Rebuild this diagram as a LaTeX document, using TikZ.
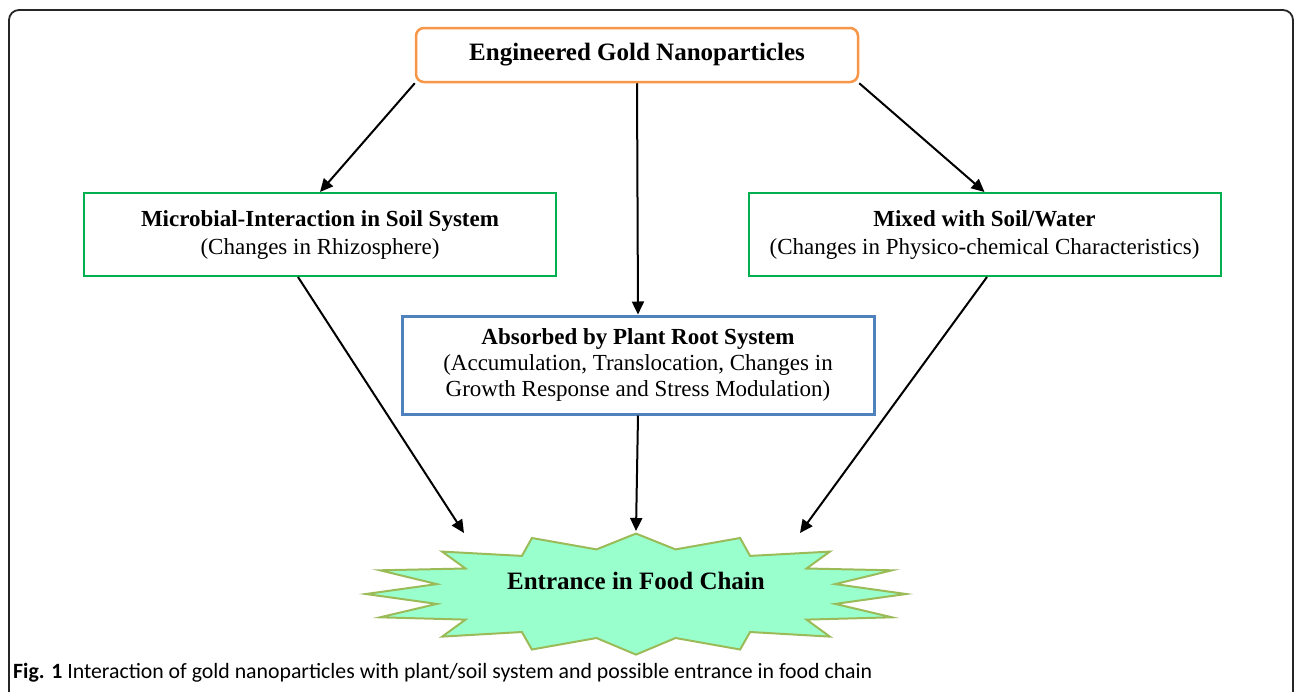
\documentclass[tikz,border=0pt]{standalone}
\usepackage{fontspec}
\setmainfont{Liberation Serif}
\newfontfamily\capfont{Carlito}
\usetikzlibrary{arrows.meta,calc}
\definecolor{orangeb}{HTML}{F79646}
\definecolor{boxgreen}{HTML}{00B050}
\definecolor{boxblue}{HTML}{4F81BD}
\definecolor{starfill}{HTML}{99FFCC}
\definecolor{starline}{HTML}{9BBB59}
\begin{document}
\begin{tikzpicture}[x=1pt,y=-1pt,
  arr/.style={line width=2pt,-{Triangle[length=13pt,width=12pt]}},
  gbox/.style={draw=boxgreen,line width=2pt,minimum width=472pt,minimum height=83pt,
    align=center,inner sep=0pt,font=\fontsize{23}{28}\selectfont},
  bbox/.style={draw=boxblue,line width=3pt,minimum width=472pt,minimum height=98pt,
    align=center,inner sep=0pt,font=\fontsize{23}{26}\selectfont},
  topbox/.style={draw=orangeb,line width=2.5pt,rounded corners=8pt,minimum width=442pt,
    minimum height=54pt,fill=white,inner sep=0pt,font=\bfseries\fontsize{25}{30}\selectfont},
  starshape/.style={fill=starfill,draw=starline,line width=2pt,line join=miter}
]
\useasboundingbox (0,0) rectangle (1296,691);
\begin{scope}
  \clip (0,0) rectangle (1296,691);
  \draw[line width=1.8pt,rounded corners=10pt,draw=black!85] (9,10) rectangle (1293,740);
\end{scope}

\node[topbox] (top) at (637,55) {Engineered Gold Nanoparticles};
\node[gbox] (lbox) at (320,234.5) {\textbf{Microbial-Interaction in Soil System}\\(Changes in Rhizosphere)};
\node[gbox] (rbox) at (984.5,234.5) {\textbf{Mixed with Soil/Water}\\(Changes in Physico-chemical Characteristics)};
\node[bbox] (mid) at (638,365) {\textbf{Absorbed by Plant Root System}\\(Accumulation, Translocation, Changes in\\Growth Response and Stress Modulation)};

\begin{scope}[shift={(636,594)}]
\draw[starshape] (0,-60.4) -- (39.5,-44.6) -- (104.1,-56) -- (114.1,-38.1) -- (193.8,-42.4)
  -- (170.5,-25.5) -- (256,-23.7) -- (199.2,-9.9) -- (270,0) -- (199.2,9.9)
  -- (256,23.3) -- (170.5,25.6) -- (193.8,42.6) -- (114.1,38) -- (104.1,55.5)
  -- (39.5,44) -- (0,60.6) -- (-39.5,44) -- (-104.1,55.5) -- (-114.1,38) -- (-193.8,42.6)
  -- (-170.5,25.6) -- (-256,23.3) -- (-199.2,9.9) -- (-270,0) -- (-199.2,-9.9)
  -- (-256,-23.7) -- (-170.5,-25.5) -- (-193.8,-42.4) -- (-114.1,-38.1) -- (-104.1,-56)
  -- (-39.5,-44.6) -- cycle;
\end{scope}
\node[inner sep=0pt,font=\bfseries\fontsize{25}{30}\selectfont] (fc) at (636,581) {Entrance in Food Chain};

\coordinate (e1) at (464,533);
\coordinate (e2) at (636,531);
\coordinate (e3) at (800,533);

\draw[arr] (top.south west) -- (lbox.north);
\draw[arr] (top.south) -- (mid.north);
\draw[arr] (top.south east) -- (rbox.north);
\draw[arr] ([xshift=-22pt]lbox.south) -- (e1);
\draw[arr] (mid.south) -- (e2);
\draw[arr] ([xshift=2.5pt]rbox.south) -- (e3);

\node[anchor=base west,inner sep=0pt,font=\capfont\fontsize{21.8}{26}\selectfont] (cap) at (13,678)
  {\textbf{Fig. 1} Interaction of gold nanoparticles with plant/soil system and possible entrance in food chain};
\end{tikzpicture}
\end{document}
